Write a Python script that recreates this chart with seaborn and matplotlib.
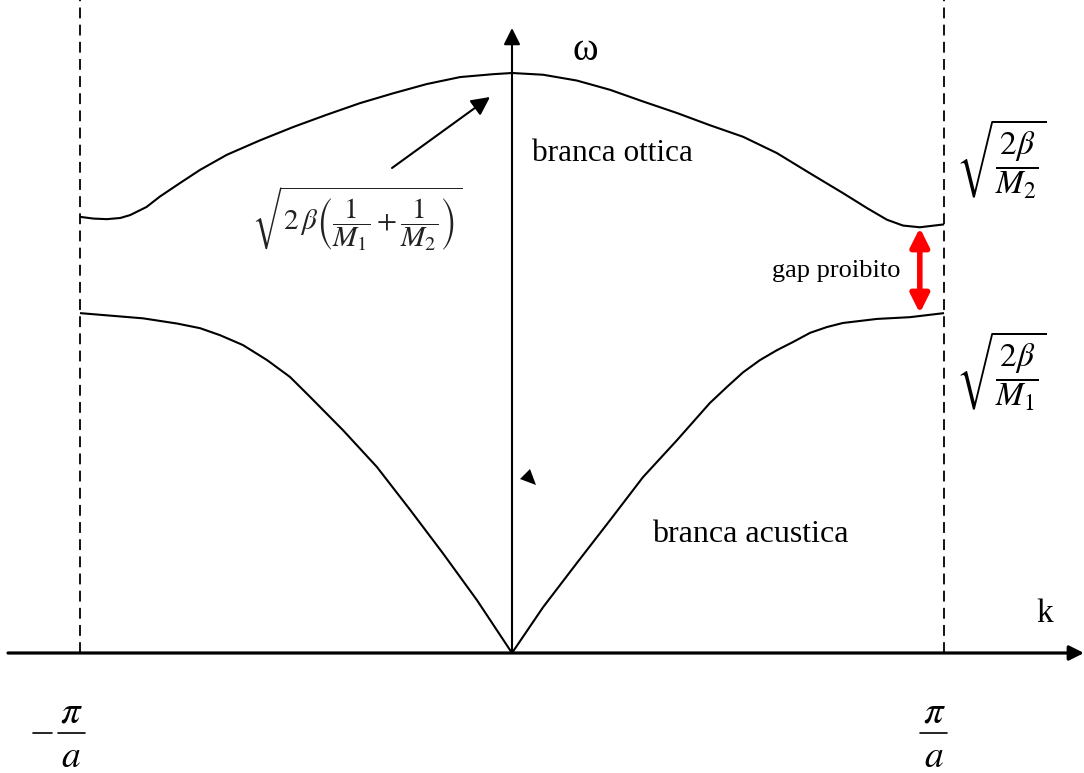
import numpy as np
import pandas as pd
import matplotlib
matplotlib.use("Agg")
import matplotlib.pyplot as plt
import seaborn as sns

# ---- data (k in units of pi/a, omega normalised to the optical maximum) ----
k_optical = [-1.000, -0.969, -0.938, -0.907, -0.884, -0.846, -0.815, -0.769, -0.722,
             -0.660, -0.583, -0.506, -0.429, -0.352, -0.275, -0.197, -0.120, -0.043,
             0.000, 0.072, 0.150, 0.227, 0.303, 0.382, 0.458, 0.535, 0.613, 0.690,
             0.766, 0.822, 0.868, 0.905, 0.944, 1.000]
w_optical = [0.752, 0.749, 0.748, 0.750, 0.755, 0.769, 0.787, 0.810, 0.833,
             0.859, 0.884, 0.907, 0.928, 0.948, 0.965, 0.981, 0.993, 0.998,
             1.000, 0.997, 0.987, 0.971, 0.951, 0.931, 0.910, 0.890, 0.862, 0.827,
             0.793, 0.767, 0.747, 0.737, 0.734, 0.739]
k_acoustic = [-1.000, -0.854, -0.775, -0.722, -0.676, -0.623, -0.567, -0.514, -0.468,
              -0.391, -0.313, -0.236, -0.160, -0.081, 0.000, 0.072, 0.150, 0.227,
              0.303, 0.382, 0.458, 0.498, 0.535, 0.574, 0.613, 0.650, 0.690, 0.729,
              0.766, 0.845, 0.921, 1.000]
w_acoustic = [0.586, 0.577, 0.568, 0.560, 0.548, 0.531, 0.505, 0.476, 0.442,
              0.384, 0.321, 0.247, 0.172, 0.091, 0.000, 0.079, 0.155, 0.229,
              0.303, 0.367, 0.431, 0.459, 0.484, 0.505, 0.522, 0.536, 0.552, 0.562,
              0.569, 0.576, 0.579, 0.586]
zone_edges = [-1.0, 1.0]
gap_k = 0.944
gap_top, gap_bottom = 0.733, 0.586
branch_labels = ["branca ottica", "branca acustica"]

sns.set_theme(style="white")
plt.rcParams["font.family"] = ["Liberation Serif", "DejaVu Serif"]
plt.rcParams["mathtext.fontset"] = "stix"
plt.rcParams["text.color"] = "black"

fig = plt.figure(figsize=(10.84, 7.73), dpi=100)
ax = fig.add_axes([0, 0, 1, 1])
ax.set_axis_off()

# pixel -> data helper for annotation placement
def P(x, y):
    return ((x - 512) / 432.0, (653 - y) / 580.0)

x0, _ = P(0, 0)
x1, _ = P(1084, 0)
_, y0 = P(0, 773)
_, y1 = P(0, 0)
ax.set_xlim(x0, x1)
ax.set_ylim(y0, y1)

df_opt = pd.DataFrame({"k": k_optical, "omega": w_optical})
df_ac = pd.DataFrame({"k": k_acoustic, "omega": w_acoustic})
for d in (df_opt, df_ac):
    sns.lineplot(data=d, x="k", y="omega", ax=ax, color="black", lw=1.5, sort=False,
                 solid_joinstyle="round", solid_capstyle="butt")

# zone boundaries
ax.vlines(zone_edges, 0, y1, colors="black", lw=1.3, linestyles=(0, (6, 3.5)))

# axes arrows
ax.annotate("", xy=P(1084, 653), xytext=P(8, 653),
            arrowprops=dict(arrowstyle="-|>", lw=2.3, color="black",
                            mutation_scale=22, shrinkA=0, shrinkB=0))
ax.annotate("", xy=P(512, 28), xytext=P(512, 653),
            arrowprops=dict(arrowstyle="-|>", lw=1.5, color="black",
                            mutation_scale=25, shrinkA=0, shrinkB=0))

# gap arrow
ax.annotate("", xy=(gap_k, gap_top), xytext=(gap_k, gap_bottom),
            arrowprops=dict(arrowstyle="<|-|>", lw=4, color="red",
                            mutation_scale=28, shrinkA=0, shrinkB=0))
ax.text(*P(836, 271), "gap proibito", fontsize=19, ha="center", va="center")

# pointer arrow to optical max
ax.annotate("", xy=P(490, 97), xytext=P(392, 168),
            arrowprops=dict(arrowstyle="-|>", lw=1.5, color="black",
                            mutation_scale=28, shrinkA=0, shrinkB=0))

# small stray arrowhead
tri = np.array([P(520, 479), P(530, 469), P(536, 485)])
ax.fill(tri[:, 0], tri[:, 1], color="black", lw=0)

# labels
ax.text(*P(585, 50), "ω", fontsize=28, ha="center", va="center")
ax.text(*P(1045, 614), "k", fontsize=24, ha="center", va="center")
ax.text(*P(532, 153), branch_labels[0], fontsize=22.5, ha="left", va="center")
ax.text(*P(652, 535), branch_labels[1], fontsize=23, ha="left", va="center")

ax.text(*P(1001, 159), r"$\sqrt{\dfrac{2\beta}{M_2}}$", fontsize=24, ha="center", va="center")
ax.text(*P(1001, 371), r"$\sqrt{\dfrac{2\beta}{M_1}}$", fontsize=24, ha="center", va="center")
ax.text(*P(357, 219), r"$\sqrt{2\,\beta\left(\dfrac{1}{M_1}+\dfrac{1}{M_2}\right)}$",
        fontsize=21, ha="center", va="center", color="#222222")

# zone-edge labels  -pi/a  and  pi/a
for kx, sign in zip(zone_edges, [-1, 1]):
    cx = P(71, 0)[0] if sign < 0 else P(934, 0)[0]
    half = 13.5 / 432.0
    _, yb = P(0, 733)
    ax.plot([cx - half, cx + half], [yb, yb], color="black", lw=1.2)
    ax.text(cx, P(0, 713)[1], r"$\pi$", fontsize=28, ha="center", va="center")
    ax.text(cx, P(0, 767)[1], r"$a$", fontsize=27, ha="center", va="baseline")
    if sign < 0:
        ax.plot([P(33, 0)[0], P(52, 0)[0]], [yb, yb], color="black", lw=1.2)

fig.savefig("out.png", dpi=100, facecolor="white")
